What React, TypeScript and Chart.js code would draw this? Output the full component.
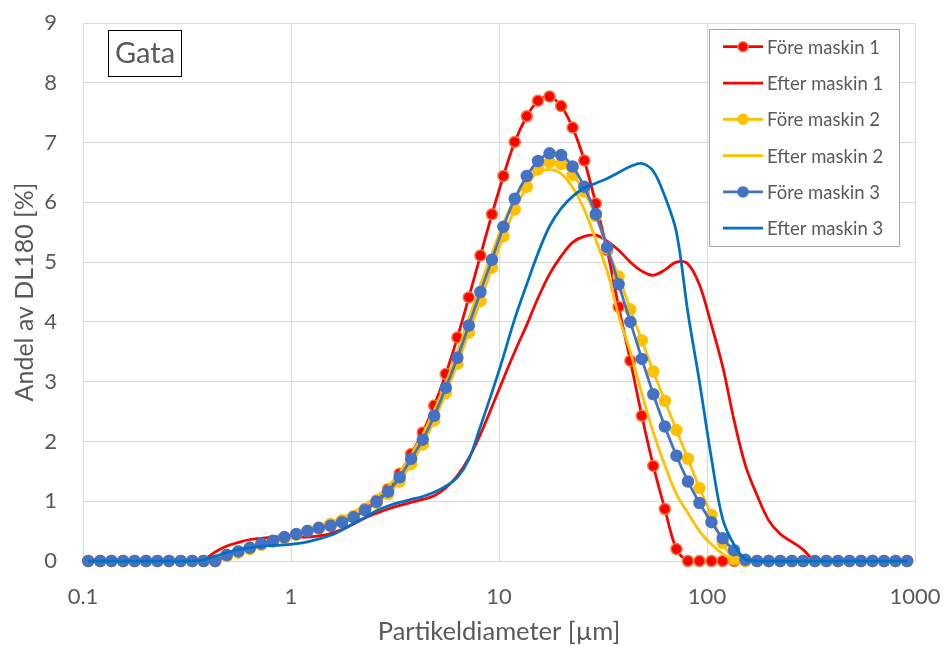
import React, { useEffect, useRef } from 'react';
import { Chart, registerables } from 'chart.js';

Chart.register(...registerables);

// Particle size classes (µm), class mid-points
const sizes = [
  0.106, 0.121, 0.137, 0.156, 0.177, 0.201, 0.228, 0.259, 0.295, 0.335, 0.380, 0.432,
  0.491, 0.558, 0.634, 0.720, 0.818, 0.929, 1.06, 1.20, 1.36, 1.55, 1.76, 2.00,
  2.27, 2.58, 2.93, 3.33, 3.78, 4.30, 4.88, 5.55, 6.31, 7.16, 8.14, 9.25,
  10.5, 11.9, 13.6, 15.4, 17.5, 19.9, 22.6, 25.7, 29.2, 33.1, 37.6, 42.8,
  48.6, 55.2, 62.7, 71.3, 81.0, 92.0, 105, 119, 135, 153, 174, 198,
  225, 256, 290, 330, 375, 426, 484, 550, 625, 710, 806, 916,
];

const fore1 = [
  0, 0, 0, 0, 0, 0, 0, 0, 0, 0, 0, 0,
  0.10, 0.16, 0.22, 0.28, 0.33, 0.39, 0.44, 0.50, 0.55, 0.60, 0.66, 0.75,
  0.87, 1.01, 1.20, 1.46, 1.79, 2.15, 2.60, 3.13, 3.74, 4.41, 5.11, 5.80,
  6.44, 7.01, 7.44, 7.70, 7.77, 7.61, 7.25, 6.70, 5.98, 5.20, 4.25, 3.35,
  2.43, 1.59, 0.87, 0.20, 0, 0, 0, 0, 0, 0, 0, 0,
  0, 0, 0, 0, 0, 0, 0, 0, 0, 0, 0, 0,
];

const efter1 = [
  0, 0, 0, 0, 0, 0, 0, 0, 0, 0, 0.02, 0.15,
  0.25, 0.31, 0.36, 0.38, 0.40, 0.41, 0.40, 0.40, 0.42, 0.46, 0.53, 0.62,
  0.72, 0.80, 0.87, 0.93, 0.98, 1.03, 1.09, 1.22, 1.43, 1.72, 2.12, 2.58,
  3.05, 3.50, 3.95, 4.40, 4.80, 5.10, 5.33, 5.43, 5.45, 5.35, 5.20, 5.00,
  4.85, 4.78, 4.87, 5.00, 4.97, 4.62, 3.95, 3.25, 2.35, 1.60, 1.10, 0.68,
  0.45, 0.32, 0.19, 0, 0, 0, 0, 0, 0, 0, 0, 0,
];

const fore2 = [
  0, 0, 0, 0, 0, 0, 0, 0, 0, 0, 0, 0,
  0.08, 0.14, 0.20, 0.27, 0.32, 0.38, 0.44, 0.50, 0.56, 0.62, 0.68, 0.75,
  0.85, 0.97, 1.12, 1.33, 1.62, 1.95, 2.35, 2.81, 3.30, 3.82, 4.35, 4.91,
  5.43, 5.88, 6.26, 6.55, 6.67, 6.64, 6.46, 6.18, 5.77, 5.23, 4.76, 4.21,
  3.69, 3.17, 2.68, 2.19, 1.71, 1.22, 0.77, 0.30, 0.03, 0, 0, 0,
  0, 0, 0, 0, 0, 0, 0, 0, 0, 0, 0, 0,
];

const efter2 = [
  0, 0, 0, 0, 0, 0, 0, 0, 0, 0, 0, 0,
  0.10, 0.16, 0.22, 0.29, 0.35, 0.41, 0.47, 0.53, 0.59, 0.65, 0.72, 0.82,
  0.94, 1.08, 1.25, 1.48, 1.78, 2.12, 2.52, 2.98, 3.50, 4.05, 4.62, 5.15,
  5.65, 6.05, 6.33, 6.50, 6.55, 6.48, 6.25, 5.88, 5.37, 4.85, 4.10, 3.50,
  2.80, 2.15, 1.60, 1.12, 0.80, 0.50, 0.28, 0.12, 0.03, 0, 0, 0,
  0, 0, 0, 0, 0, 0, 0, 0, 0, 0, 0, 0,
];

const fore3 = [
  0, 0, 0, 0, 0, 0, 0, 0, 0, 0, 0, 0,
  0.10, 0.16, 0.22, 0.29, 0.34, 0.40, 0.45, 0.50, 0.55, 0.59, 0.65, 0.73,
  0.85, 0.99, 1.16, 1.40, 1.71, 2.03, 2.43, 2.90, 3.40, 3.94, 4.50, 5.04,
  5.59, 6.06, 6.44, 6.69, 6.82, 6.79, 6.60, 6.26, 5.80, 5.25, 4.63, 4.00,
  3.38, 2.79, 2.25, 1.76, 1.33, 0.97, 0.65, 0.38, 0.18, 0.02, 0, 0,
  0, 0, 0, 0, 0, 0, 0, 0, 0, 0, 0, 0,
];

const efter3 = [
  0, 0, 0, 0, 0, 0, 0, 0, 0, 0, 0.02, 0.08,
  0.14, 0.19, 0.22, 0.25, 0.26, 0.27, 0.29, 0.32, 0.37, 0.43, 0.52, 0.63,
  0.73, 0.84, 0.92, 0.98, 1.03, 1.08, 1.15, 1.25, 1.40, 1.70, 2.25, 2.82,
  3.42, 4.05, 4.63, 5.15, 5.60, 5.90, 6.10, 6.24, 6.32, 6.40, 6.50, 6.60,
  6.65, 6.52, 6.10, 5.50, 4.15, 3.00, 1.72, 0.70, 0.27, 0.03, 0, 0,
  0, 0, 0, 0, 0, 0, 0, 0, 0, 0, 0, 0,
];

const seriesLabels = ['Före maskin 1', 'Efter maskin 1', 'Före maskin 2', 'Efter maskin 2', 'Före maskin 3', 'Efter maskin 3'];
const seriesValues = [fore1, efter1, fore2, efter2, fore3, efter3];
const seriesColors = ['#FF0000', '#FF0000', '#FFC000', '#FFC000', '#4472C4', '#0070C0'];
const seriesMarkers = [true, false, true, false, true, false];
const markerBorders = ['#F07A3A', '#FF0000', '#FFC000', '#FFC000', '#4472C4', '#0070C0'];

const xTicks = [0.1, 1, 10, 100, 1000];
const xTitle = 'Partikeldiameter [µm]';
const yTitle = 'Andel av DL180 [%]';
const boxLabel = 'Gata';

const FONT = 'Lato, "Liberation Sans", sans-serif';
const TEXT = '#595959';
const GRID = '#D9D9D9';

export default function App() {
  const ref = useRef<HTMLCanvasElement | null>(null);

  useEffect(() => {
    document.body.style.margin = '0';
    const canvas = ref.current;
    if (!canvas) return;

    const overlay = {
      id: 'overlay',
      afterDraw(chart: any) {
        const ctx = chart.ctx as CanvasRenderingContext2D;
        ctx.save();
        // "Gata" text box
        ctx.fillStyle = '#FFFFFF';
        ctx.fillRect(108.5, 30.5, 73, 46);
        ctx.strokeStyle = '#000000';
        ctx.lineWidth = 1;
        ctx.strokeRect(108.5, 30.5, 73, 46);
        ctx.fillStyle = TEXT;
        ctx.font = `29px ${FONT}`;
        ctx.textAlign = 'center';
        ctx.textBaseline = 'middle';
        ctx.fillText(boxLabel, 145, 54);

        // Legend
        ctx.fillStyle = '#FFFFFF';
        ctx.fillRect(709.5, 29.5, 190, 217);
        ctx.strokeStyle = '#A6A6A6';
        ctx.lineWidth = 1;
        ctx.strokeRect(709.5, 29.5, 190, 217);
        ctx.font = `18.5px ${FONT}`;
        ctx.textAlign = 'left';
        ctx.textBaseline = 'middle';
        for (let k = 0; k < seriesLabels.length; k++) {
          const y = 46.7 + k * 36.3;
          ctx.strokeStyle = seriesColors[k];
          ctx.lineWidth = 2.75;
          ctx.beginPath();
          ctx.moveTo(723, y);
          ctx.lineTo(763, y);
          ctx.stroke();
          if (seriesMarkers[k]) {
            ctx.beginPath();
            ctx.arc(743, y, 5, 0, Math.PI * 2);
            ctx.fillStyle = seriesColors[k];
            ctx.fill();
            ctx.strokeStyle = markerBorders[k];
            ctx.lineWidth = 1.5;
            ctx.stroke();
          }
          ctx.fillStyle = TEXT;
          ctx.fillText(seriesLabels[k], 767, y + 1);
        }
        ctx.restore();
      },
    };

    const datasets = seriesLabels.map((label, k) => ({
      label,
      data: sizes.map((x, i) => ({ x, y: seriesValues[k][i] })),
      borderColor: seriesColors[k],
      backgroundColor: seriesColors[k],
      borderWidth: 2.75,
      pointRadius: seriesMarkers[k] ? 5.5 : 0,
      pointHoverRadius: 0,
      pointBackgroundColor: seriesColors[k],
      pointBorderColor: markerBorders[k],
      pointBorderWidth: 1.5,
      tension: 0.35,
      fill: false,
      clip: false as any,
      order: seriesLabels.length - k,
    }));

    const chart = new Chart(canvas, {
      type: 'line',
      data: { datasets },
      options: {
        animation: false,
        responsive: false,
        events: [],
        layout: { padding: { top: 23, right: 30, left: 0, bottom: 0 } },
        plugins: { legend: { display: false }, tooltip: { enabled: false } },
        scales: {
          x: {
            type: 'logarithmic',
            min: 0.1,
            max: 1000,
            afterBuildTicks: (scale: any) => {
              scale.ticks = xTicks.map((v) => ({ value: v }));
            },
            afterFit: (scale: any) => {
              scale.height = 85;
              scale.paddingLeft = 0;
              scale.paddingRight = 0;
            },
            grid: { color: GRID, lineWidth: 1, drawTicks: false },
            border: { display: false },
            ticks: {
              color: TEXT,
              font: { family: FONT, size: 22 },
              padding: 23,
              maxRotation: 0,
              autoSkip: false,
              callback: (v: any) => String(v),
            },
            title: {
              display: true,
              text: xTitle,
              color: TEXT,
              font: { family: FONT, size: 25.5, lineHeight: 1 },
              padding: { top: 0, bottom: 1 },
            },
          },
          y: {
            min: 0,
            max: 9,
            afterFit: (scale: any) => {
              scale.width = 83;
              scale.paddingTop = 0;
              scale.paddingBottom = 0;
            },
            grid: { color: GRID, lineWidth: 1, drawTicks: false },
            border: { display: false },
            ticks: {
              stepSize: 1,
              color: TEXT,
              font: { family: FONT, size: 22 },
              padding: 26,
            },
            title: {
              display: true,
              text: yTitle,
              color: TEXT,
              font: { family: FONT, size: 25, lineHeight: 1.2 },
              padding: { top: 10, bottom: 0 },
            },
          },
        },
      },
      plugins: [overlay],
    });

    return () => chart.destroy();
  }, []);

  return (
    <div style={{ width: 945, height: 646, background: '#FFFFFF' }}>
      <canvas ref={ref} width={945} height={646} style={{ display: 'block' }} />
    </div>
  );
}
